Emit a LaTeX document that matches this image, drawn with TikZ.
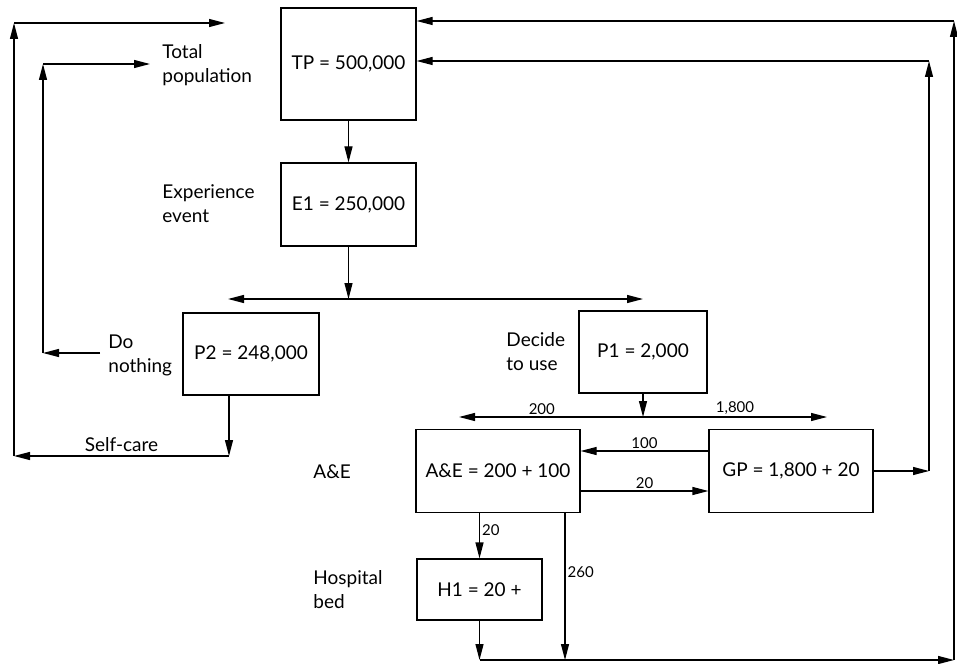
\documentclass[tikz,border=0pt]{standalone}
\usepackage{fontspec}
\setmainfont{Lato}
\usetikzlibrary{arrows.meta,calc,positioning}
\tikzset{%
  arrow/.style={line width=0.6pt,-{Triangle[length=8pt,width=4pt]}},
  stock/.style={draw,line width=0.6pt,inner sep=0pt,font=\fontsize{9.5}{11}\selectfont},
  note/.style={anchor=west,align=left,inner sep=0pt,font=\fontsize{9.5}{12}\selectfont},
  flow/.style={inner sep=1pt,font=\fontsize{7.5}{9}\selectfont},
}

\begin{document}
\begin{tikzpicture}[x=0.5pt,y=-0.5pt]
      \useasboundingbox (0,0) rectangle (957,663);

      % boxes
      \node[stock,minimum width=67.5pt,minimum height=56pt] (tp) at (348.5,64) {TP = 500,000};
      \node[stock,minimum width=67.5pt,minimum height=41.5pt] (e1) at (348.5,204.5) {E1 = 250,000};
      \node[stock,minimum width=68pt,minimum height=41pt] (p2) at (251,354) {P2 = 248,000};
      \node[stock,minimum width=64pt,minimum height=41pt] (p1) at (643,352) {P1 = 2,000};
      \node[stock,minimum width=82pt,minimum height=41.5pt] (ae) at (498,471) {A\&E = 200 + 100};
      \node[stock,minimum width=82pt,minimum height=41.5pt] (gp) at (791,471) {GP = 1,800 + 20};
      \node[stock,minimum width=62.5pt,minimum height=30.5pt] (h1) at (479.5,589.5) {H1 = 20 +};

      % side texts
      \node[note] (total) at (162,65) {Total\\population};
      \node[note] (event) at (162,204) {Experience\\event};
      \node[note] (nothingtxt) at (108,355) {Do\\nothing};
      \node[note] (decide) at (506,352) {Decide\\to use};
      \node[note] (aetxt) at (313,472) {A\&E};
      \node[note] (bed) at (313,590) {Hospital\\bed};

      % corner points
      \coordinate (fork1) at (348.5,299);
      \coordinate (fork1l) at (228,299);
      \coordinate (fork1r) at (643,299);
      \coordinate (fork2) at (643,417);
      \coordinate (fork2l) at (459,417);
      \coordinate (fork2r) at (827,417);
      \coordinate (gpr) at (929,471);
      \coordinate (gpt) at (929,61);
      \coordinate (base) at (479.5,660);
      \coordinate (aedown) at (565,660);
      \coordinate (baser) at (954,660);
      \coordinate (topr) at (954,21);
      \coordinate (nothing) at (100,353);
      \coordinate (nothingl) at (43,353);
      \coordinate (nothingt) at (43,64);
      \coordinate (nothinge) at (150,64);
      \coordinate (self) at (229,456);
      \coordinate (selfl) at (14,456);
      \coordinate (selft) at (14,23);
      \coordinate (selfe) at (225,23);

      \draw[arrow] (tp) -- (e1);
      \draw[arrow] (e1) -- (fork1);
      \draw[arrow] (fork1) -- (fork1l);
      \draw[arrow] (fork1) -- (fork1r);

      \draw[arrow] (p1) -- (fork2);
      \draw[arrow] (fork2) -- (fork2l) node[flow,pos=0.55,above] {200};
      \draw[arrow] (fork2) -- (fork2r) node[flow,pos=0.5,above] {1,800};

      \draw[arrow] ([yshift=10pt]gp.west) -- ([yshift=10pt]ae.east) node[flow,midway,above] {100};
      \draw[arrow] ([yshift=-10pt]ae.east) -- ([yshift=-10pt]gp.west) node[flow,midway,above] {20};
      \draw[arrow] (h1.north |- ae.south) -- (h1.north) node[flow,midway,right,yshift=3pt] {20};

      \draw[arrow] (gp) -- (gpr);
      \draw[arrow] (gpr) -- (gpt);
      \draw[arrow] (gpt) -- (gpt -| tp.east);

      \draw[arrow] (h1) -- (base);
      \draw[arrow] (aedown |- ae.south) -- (aedown) node[flow,pos=0.4,right] {260};
      \draw[arrow] (base) -- (baser);
      \draw[arrow] (baser) -- (topr);
      \draw[arrow] (topr) -- (topr -| tp.east);

      \draw[arrow] (nothing) -- (nothingl);
      \draw[arrow] (nothingl) -- (nothingt);
      \draw[arrow] (nothingt) -- (nothinge);

      \draw[arrow] (self |- p2.south) -- (self);
      \draw[arrow] (self) -- (selfl) node[note,anchor=south,midway,above=1pt,inner sep=1pt] {Self-care};
      \draw[arrow] (selfl) -- (selft);
      \draw[arrow] (selft) -- (selfe);
    \end{tikzpicture}
\end{document}
